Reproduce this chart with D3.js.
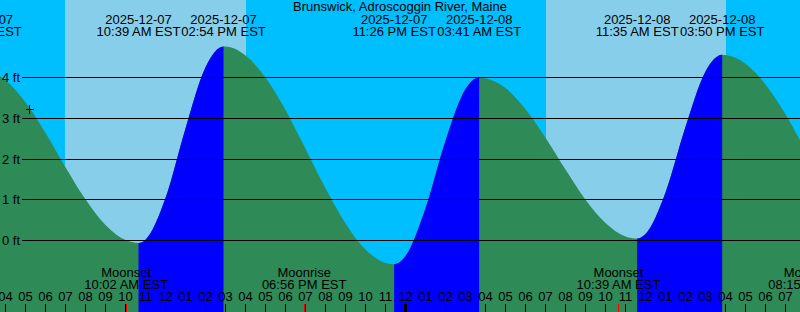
<!DOCTYPE html>
<html><head><meta charset="utf-8">
<script src="https://cdn.jsdelivr.net/npm/d3@7"></script>
<style>
html,body{margin:0;padding:0;background:#fff;}
svg{display:block;}
text{font-family:"Liberation Sans",Arial,sans-serif;font-size:13px;fill:#000;}
</style></head><body>
<svg id="chart" width="800" height="312"></svg>
<script>
// ---------- data ----------
const title = "Brunswick, Adroscoggin River, Maine";
const viewStart = "2025-12-07T03:43:30";
const viewEnd = "2025-12-08T19:43:30";

// tide extrema (feet)
const tideTimes = ["2025-12-07T02:43","2025-12-07T10:39","2025-12-07T14:54","2025-12-07T23:26",
                   "2025-12-08T03:41","2025-12-08T11:35","2025-12-08T15:50","2025-12-09T00:36"];
const tideHeights = [4.20, -0.06, 4.76, -0.58, 4.00, 0.05, 4.56, -0.50];
const tideKinds = ["high","low","high","low","high","low","high","low"];

// hourly tide heights (feet), starting 2025-12-07 03:00
const sampleStart = "2025-12-07T03:00";
const sampleHeights = [4.19, 3.93, 3.39, 2.64, 1.80, 1.01, 0.38, 0.01, 0.02, 1.04,
                       2.75, 4.25, 4.76, 4.54, 4.00, 3.20, 2.25, 1.28, 0.42, -0.22,
                       -0.55, -0.38, 0.79, 2.45, 3.72, 3.98, 3.74, 3.22, 2.52, 1.74,
                       1.00, 0.43, 0.10, 0.16, 1.18, 2.79, 4.15, 4.55, 4.34, 3.83,
                       3.10, 2.23];

const sunrises = ["2025-12-07T06:58","2025-12-08T07:01"];
const sunsets  = ["2025-12-07T16:01","2025-12-08T16:01"];

const moonTimes  = ["2025-12-07T10:02","2025-12-07T18:56","2025-12-08T10:39","2025-12-08T20:15"];
const moonEvents = ["Moonset","Moonrise","Moonset","Moonrise"];

const heightTicks = [0, 1, 2, 3, 4];
const nowTime = "2025-12-07T05:12";
const nowHeight = 3.22;

// ---------- colours ----------
const nightSky = "#00bfff", daySky = "#87ceeb", ebbColor = "#2e8b57", floodColor = "#0000ff";

// ---------- setup ----------
const W = 800, H = 312;
const parse = d3.timeParse("%Y-%m-%dT%H:%M");
const parseS = d3.timeParse("%Y-%m-%dT%H:%M:%S");
const svg = d3.select("#chart");

const x = d3.scaleTime().domain([parseS(viewStart), parseS(viewEnd)]).range([0, W]);
const y = d3.scaleLinear().domain([0, 4]).range([240.5, 77.5]);

// background sky
svg.append("rect").attr("x",0).attr("y",0).attr("width",W).attr("height",H).attr("fill",nightSky);
sunrises.forEach((s,i)=>{
  const x0 = x(parse(s)), x1 = x(parse(sunsets[i]));
  svg.append("rect").attr("x",x0).attr("y",0).attr("width",x1-x0).attr("height",H)
    .attr("fill",daySky).attr("shape-rendering","crispEdges");
});

// curve points
const tides = tideTimes.map((t,i)=>({t:parse(t), v:tideHeights[i], kind:tideKinds[i]}));
const t0 = parse(sampleStart);
const samples = sampleHeights.map((v,i)=>({t:d3.timeHour.offset(t0,i), v}));
const pts = samples.concat(tides.map(d=>({t:d.t, v:d.v}))).sort((a,b)=>a.t-b.t);

const area = d3.area().x(d=>x(d.t)).y0(H).y1(d=>y(d.v)).curve(d3.curveMonotoneX);

// flood clip (rising from low to next high)
const defs = svg.append("defs");
const clip = defs.append("clipPath").attr("id","flood");
tides.forEach((d,i)=>{
  if (d.kind==="low" && i+1<tides.length){
    const x0 = x(d.t), x1 = x(tides[i+1].t);
    clip.append("rect").attr("x",x0).attr("y",0).attr("width",x1-x0).attr("height",H);
  }
});

svg.append("path").datum(pts).attr("d",area).attr("fill",ebbColor);
svg.append("path").datum(pts).attr("d",area).attr("fill",floodColor).attr("clip-path","url(#flood)");

// grid lines
heightTicks.forEach(v=>{
  svg.append("line").attr("x1",22).attr("x2",W).attr("y1",y(v)).attr("y2",y(v))
    .attr("stroke","#000").attr("stroke-width",1).attr("shape-rendering","crispEdges");
  svg.append("text").attr("x",2).attr("y",y(v)+4.5).text(v+" ft");
});

// now marker
const nx = x(parse(nowTime)), ny = y(nowHeight);
svg.append("path").attr("d",`M${nx-4},${ny}H${nx+4}M${nx},${ny-4}V${ny+5}`)
  .attr("stroke","#000").attr("stroke-width",1).attr("shape-rendering","crispEdges");

// title
svg.append("text").attr("x",W/2).attr("y",11).attr("text-anchor","middle").text(title);

// tide labels
const fmtDate = d3.timeFormat("%Y-%m-%d");
const fmtTime = d3.timeFormat("%I:%M %p EST");
tides.forEach(d=>{
  const cx = x(d.t);
  svg.append("text").attr("x",cx).attr("y",24).attr("text-anchor","middle").text(fmtDate(d.t));
  svg.append("text").attr("x",cx).attr("y",36).attr("text-anchor","middle").text(fmtTime(d.t));
});

// moon labels
moonTimes.forEach((s,i)=>{
  const t = parse(s), cx = x(t);
  svg.append("text").attr("x",cx).attr("y",277).attr("text-anchor","middle").text(moonEvents[i]);
  svg.append("text").attr("x",cx).attr("y",289).attr("text-anchor","middle").text(fmtTime(t));
});

// hour axis
const axis = d3.axisTop(x).ticks(d3.timeHour.every(1)).tickFormat(d3.timeFormat("%I"))
  .tickSize(8).tickPadding(3).offset(0);
const gA = svg.append("g").attr("transform",`translate(0,${H})`).call(axis);
gA.select(".domain").remove();
gA.attr("font-family",null).attr("font-size",null);
gA.selectAll(".tick line").attr("stroke","#000").attr("shape-rendering","crispEdges")
  .attr("stroke-width",d=>d.getHours()===0?3:1);
gA.selectAll(".tick text").attr("fill","#000");

// moon ticks
moonTimes.forEach(s=>{
  const cx = x(parse(s));
  svg.append("line").attr("x1",cx).attr("x2",cx).attr("y1",H-8).attr("y2",H)
    .attr("stroke","#ff0000").attr("stroke-width",1).attr("shape-rendering","crispEdges");
});
</script>
</body></html>
